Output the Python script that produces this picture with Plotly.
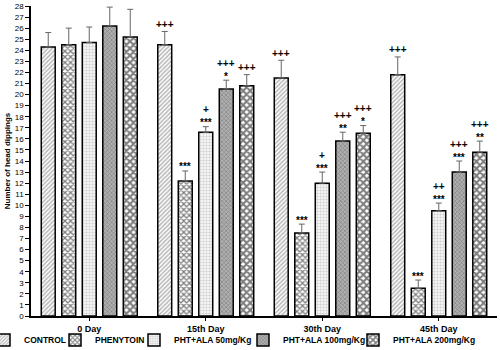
import plotly.graph_objects as go

categories = ["0 Day", "15th Day", "30th Day", "45th Day"]
series_names = ["CONTROL", "PHENYTOIN", "PHT+ALA 50mg/Kg", "PHT+ALA 100mg/Kg", "PHT+ALA 200mg/Kg"]

control = [24.3, 24.5, 21.5, 21.8]
control_err = [1.3, 1.2, 1.6, 1.6]
phenytoin = [24.5, 12.2, 7.5, 2.5]
phenytoin_err = [1.5, 0.9, 0.8, 0.75]
pht50 = [24.7, 16.6, 12.0, 9.5]
pht50_err = [1.4, 0.5, 1.0, 0.7]
pht100 = [26.2, 20.5, 15.8, 13.0]
pht100_err = [1.7, 0.8, 0.8, 1.0]
pht200 = [25.2, 20.8, 16.5, 14.8]
pht200_err = [2.5, 1.0, 0.7, 1.0]

control_star = ["", "", "", ""]
control_plus = ["", "+++", "+++", "+++"]
phenytoin_star = ["", "***", "***", "***"]
phenytoin_plus = ["", "", "", ""]
pht50_star = ["", "***", "***", "***"]
pht50_plus = ["", "+", "+", "++"]
pht100_star = ["", "*", "**", "***"]
pht100_plus = ["", "+++", "+++", "+++"]
pht200_star = ["", "", "*", "**"]
pht200_plus = ["", "+++", "+++", "+++"]

values = [control, phenytoin, pht50, pht100, pht200]
errors = [control_err, phenytoin_err, pht50_err, pht100_err, pht200_err]
stars = [control_star, phenytoin_star, pht50_star, pht100_star, pht200_star]
pluses = [control_plus, phenytoin_plus, pht50_plus, pht100_plus, pht200_plus]

patterns = [
    dict(shape="/", fgcolor="#707070", bgcolor="#ffffff", size=3, solidity=0.5),
    dict(shape="x", fgcolor="#000000", bgcolor="#ffffff", size=4, solidity=0.55),
    dict(shape=".", fgcolor="#a8a8a8", bgcolor="#ffffff", size=3, solidity=0.5),
    dict(shape="x", fgcolor="#444444", bgcolor="#b0b0b0", size=3, solidity=0.35),
    dict(shape="x", fgcolor="#000000", bgcolor="#ffffff", size=5, solidity=0.65),
]

# legend text starting positions in pixels (legend layout)
legend_text_px = [27, 98, 177, 286, 396]

bargap = 0.12
bargroupgap = 0.32
n = len(series_names)
slot = (1 - bargap) / n
xs = list(range(len(categories)))

ML, MR, MT, MB = 31, 3, 6, 34
W, H = 500, 350
plot_w = W - ML - MR

fig = go.Figure()
for j in range(n):
    fig.add_trace(go.Bar(
        x=xs, y=values[j], name="<b>" + series_names[j] + "</b>",
        legend="legend" if j == 0 else "legend%d" % (j + 1),
        marker=dict(color="#ffffff", line=dict(color="#000000", width=1.5), pattern=patterns[j]),
        error_y=dict(type="data", array=errors[j], arrayminus=[0] * len(xs), symmetric=False,
                     color="#666666", thickness=1, width=3),
    ))

annotations = []
for j in range(n):
    for i in xs:
        xpos = i + (j - (n - 1) / 2) * slot
        top = values[j][i] + errors[j][i]
        s = stars[j][i]
        p = pluses[j][i]
        if s:
            annotations.append(dict(x=xpos, y=top, text="<b>" + s + "</b>", showarrow=False, xref="x", yref="y",
                                    yanchor="middle", yshift=4,
                                    font=dict(family="Liberation Sans", size=10, color="#000000")))
        if p:
            annotations.append(dict(x=xpos, y=top, text="<b>" + p + "</b>", showarrow=False, xref="x", yref="y",
                                    yanchor="middle", yshift=(17 if s else 7),
                                    font=dict(family="Liberation Sans", size=10, color="#000000")))

legend_layouts = {}
for j in range(n):
    key = "legend" if j == 0 else "legend%d" % (j + 1)
    legend_layouts[key] = dict(
        orientation="h", xref="paper", yref="container",
        x=(legend_text_px[j] - 43 - ML) / plot_w, xanchor="left",
        y=(H - 340) / H, yanchor="middle",
        font=dict(family="Liberation Sans", size=8.5, color="#000000"),
        itemwidth=30, bgcolor="rgba(0,0,0,0)",
    )

fig.update_layout(
    width=W, height=H,
    margin=dict(l=ML, r=MR, t=MT, b=MB, autoexpand=False),
    paper_bgcolor="#ffffff", plot_bgcolor="#ffffff",
    barmode="group", bargap=bargap, bargroupgap=bargroupgap,
    showlegend=True,
    font=dict(family="Liberation Sans", color="#000000"),
    annotations=annotations,
    xaxis=dict(range=[-0.5, 3.5], tickvals=xs, ticktext=["<b>" + c + "</b>" for c in categories],
               showline=True, linecolor="#000000", linewidth=1.5, ticks="outside", ticklen=3,
               tickcolor="#000000", showgrid=False, zeroline=False, automargin=False,
               tickfont=dict(family="Liberation Sans", size=9, color="#000000")),
    yaxis=dict(range=[0, 28], dtick=1, showline=True, linecolor="#000000", linewidth=1.5,
               ticks="outside", ticklen=4, tickcolor="#000000", showgrid=False, zeroline=False,
               automargin=False,
               tickfont=dict(family="Liberation Sans", size=8, color="#000000"),
               title=dict(text="<b>Number of head dippings</b>", standoff=3,
                          font=dict(family="Liberation Sans", size=8, color="#000000"))),
    **legend_layouts,
)

fig.write_html("out.html", config={"displayModeBar": False},
               post_script="document.body.style.margin='0';document.body.style.overflow='hidden';")
